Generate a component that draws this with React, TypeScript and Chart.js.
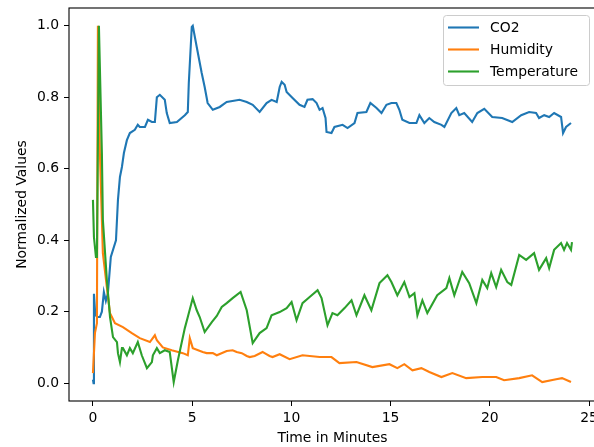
import React, { useEffect, useRef } from "react";
import { Chart, registerables } from "chart.js";

Chart.register(...registerables);

const co2Minutes = [0, 0.03, 0.05, 0.12, 0.25, 0.35, 0.45, 0.55, 0.65, 0.75, 0.9, 1.16, 1.26, 1.36, 1.46, 1.56, 1.71, 1.86, 2.11, 2.26, 2.36, 2.62, 2.77, 2.97, 3.12, 3.22, 3.37, 3.62, 3.72, 3.87, 4.23, 4.63, 4.78, 4.83, 4.98, 5.03, 5.23, 5.48, 5.63, 5.78, 6.04, 6.39, 6.74, 7.39, 7.75, 8.05, 8.4, 8.75, 9.0, 9.26, 9.41, 9.51, 9.66, 9.76, 10.06, 10.41, 10.66, 10.81, 11.07, 11.27, 11.42, 11.57, 11.72, 11.77, 12.02, 12.17, 12.58, 12.83, 13.18, 13.33, 13.78, 13.98, 14.29, 14.54, 14.79, 15.04, 15.29, 15.44, 15.59, 15.95, 16.3, 16.45, 16.7, 16.95, 17.2, 17.56, 17.71, 18.06, 18.31, 18.46, 18.71, 19.11, 19.37, 19.72, 20.12, 20.62, 21.13, 21.58, 21.98, 22.33, 22.48, 22.74, 22.99, 23.24, 23.59, 23.69, 23.84, 24.09];
const co2Values = [0.01, 0.0, 0.25, 0.19, 0.185, 0.185, 0.2, 0.255, 0.23, 0.25, 0.353, 0.4, 0.513, 0.577, 0.605, 0.644, 0.68, 0.7, 0.709, 0.723, 0.717, 0.717, 0.737, 0.731, 0.731, 0.8, 0.807, 0.793, 0.756, 0.728, 0.731, 0.75, 0.759, 0.84, 0.997, 1.0, 0.941, 0.868, 0.829, 0.784, 0.765, 0.773, 0.787, 0.793, 0.787, 0.779, 0.759, 0.784, 0.793, 0.787, 0.829, 0.843, 0.835, 0.815, 0.798, 0.779, 0.773, 0.793, 0.795, 0.784, 0.765, 0.77, 0.742, 0.703, 0.7, 0.717, 0.723, 0.714, 0.728, 0.756, 0.759, 0.784, 0.77, 0.756, 0.779, 0.784, 0.784, 0.765, 0.737, 0.728, 0.728, 0.75, 0.728, 0.742, 0.731, 0.723, 0.717, 0.756, 0.77, 0.75, 0.756, 0.731, 0.756, 0.768, 0.745, 0.742, 0.731, 0.75, 0.759, 0.756, 0.742, 0.75, 0.745, 0.756, 0.745, 0.7, 0.717, 0.728];

const humidityMinutes = [0, 0.1, 0.2, 0.25, 0.35, 0.5, 0.7, 0.86, 1.11, 1.51, 1.96, 2.36, 2.87, 3.12, 3.22, 3.52, 3.97, 4.53, 4.78, 4.88, 5.03, 5.53, 5.73, 6.04, 6.24, 6.74, 7.04, 7.24, 7.5, 7.75, 7.9, 8.15, 8.55, 8.65, 8.9, 9.05, 9.41, 9.91, 10.56, 11.42, 12.02, 12.42, 13.28, 14.08, 14.94, 15.34, 15.69, 16.1, 16.55, 16.95, 17.56, 18.11, 18.81, 19.62, 20.32, 20.72, 21.48, 22.13, 22.64, 23.34, 23.64, 24.09];
const humidityValues = [0.028, 0.14, 0.168, 1.0, 0.644, 0.364, 0.269, 0.196, 0.168, 0.157, 0.14, 0.126, 0.115, 0.134, 0.12, 0.1, 0.092, 0.084, 0.078, 0.126, 0.098, 0.087, 0.084, 0.084, 0.078, 0.09, 0.092, 0.087, 0.084, 0.076, 0.073, 0.076, 0.087, 0.084, 0.076, 0.073, 0.081, 0.067, 0.078, 0.073, 0.073, 0.056, 0.059, 0.045, 0.053, 0.042, 0.053, 0.036, 0.042, 0.031, 0.017, 0.028, 0.014, 0.017, 0.017, 0.008, 0.014, 0.022, 0.003, 0.011, 0.014, 0.003];

const temperatureMinutes = [0, 0.05, 0.15, 0.2, 0.3, 0.45, 0.5, 0.7, 0.86, 1.01, 1.21, 1.26, 1.36, 1.46, 1.51, 1.71, 1.86, 2.01, 2.26, 2.46, 2.72, 2.97, 3.02, 3.22, 3.37, 3.62, 3.87, 4.07, 4.28, 4.63, 4.78, 5.03, 5.23, 5.38, 5.63, 5.99, 6.24, 6.49, 6.74, 7.04, 7.44, 7.75, 8.05, 8.4, 8.75, 9.0, 9.41, 9.76, 10.01, 10.26, 10.56, 10.92, 11.32, 11.52, 11.82, 12.07, 12.32, 12.68, 13.03, 13.28, 13.68, 14.03, 14.44, 14.84, 15.04, 15.34, 15.69, 15.95, 16.2, 16.35, 16.6, 16.85, 17.35, 17.81, 17.96, 18.21, 18.61, 18.96, 19.32, 19.62, 19.87, 20.07, 20.32, 20.57, 20.88, 21.08, 21.48, 21.83, 22.23, 22.48, 22.84, 22.99, 23.24, 23.59, 23.74, 23.89, 24.09, 24.14];
const temperatureValues = [0.513, 0.409, 0.353, 0.353, 1.0, 0.644, 0.457, 0.289, 0.185, 0.129, 0.115, 0.084, 0.059, 0.098, 0.098, 0.078, 0.098, 0.084, 0.115, 0.078, 0.042, 0.059, 0.078, 0.098, 0.084, 0.092, 0.087, 0.003, 0.064, 0.154, 0.185, 0.238, 0.204, 0.185, 0.143, 0.171, 0.188, 0.213, 0.224, 0.238, 0.255, 0.204, 0.112, 0.14, 0.154, 0.19, 0.199, 0.21, 0.227, 0.176, 0.224, 0.241, 0.26, 0.238, 0.162, 0.196, 0.19, 0.21, 0.232, 0.19, 0.246, 0.204, 0.28, 0.302, 0.283, 0.246, 0.283, 0.241, 0.252, 0.19, 0.232, 0.196, 0.246, 0.266, 0.294, 0.246, 0.311, 0.28, 0.224, 0.289, 0.266, 0.308, 0.269, 0.317, 0.283, 0.275, 0.359, 0.345, 0.364, 0.317, 0.35, 0.322, 0.373, 0.392, 0.373, 0.392, 0.373, 0.395];

const seriesNames = ["CO2", "Humidity", "Temperature"];
const seriesColors = ["#1f77b4", "#ff7f0e", "#2ca02c"];
const xTickValues = [0, 5, 10, 15, 20, 25];
const yTickValues = [0, 0.2, 0.4, 0.6, 0.8, 1.0];
const xTitle = "Time in Minutes";
const yTitle = "Normalized Values";

const FONT_SIZE = 13.9;
const FONT = `${FONT_SIZE}px "DejaVu Sans"`;

const toPoints = (xs: number[], ys: number[]) => xs.map((x, i) => ({ x, y: ys[i] }));

const framePlugin = {
  id: "mplFrame",
  afterDraw(chart: any) {
    const { ctx, chartArea: a } = chart;
    ctx.save();
    // spines
    ctx.strokeStyle = "#000";
    ctx.lineWidth = 1.1;
    ctx.strokeRect(a.left, a.top, a.right - a.left, a.bottom - a.top);
    // axis titles
    ctx.fillStyle = "#000";
    ctx.font = FONT;
    ctx.textAlign = "center";
    ctx.textBaseline = "middle";
    ctx.fillText(xTitle, (a.left + a.right) / 2, a.bottom + 37);
    ctx.save();
    ctx.translate(a.left - 47, (a.top + a.bottom) / 2);
    ctx.rotate(-Math.PI / 2);
    ctx.fillText(yTitle, 0, 0);
    ctx.restore();
    // legend
    const boxW = 146;
    const boxH = 70;
    const bx = a.right - 7 - boxW;
    const by = a.top + 7;
    ctx.beginPath();
    ctx.roundRect(bx + 0.5, by + 0.5, boxW, boxH, 3);
    ctx.fillStyle = "rgba(255,255,255,0.8)";
    ctx.fill();
    ctx.strokeStyle = "#cccccc";
    ctx.lineWidth = 1;
    ctx.stroke();
    seriesNames.forEach((name, i) => {
      const ry = by + 12.5 + i * 22;
      ctx.beginPath();
      ctx.moveTo(bx + 5, ry);
      ctx.lineTo(bx + 36, ry);
      ctx.strokeStyle = seriesColors[i];
      ctx.lineWidth = 2.1;
      ctx.stroke();
      ctx.fillStyle = "#000";
      ctx.textAlign = "left";
      ctx.textBaseline = "middle";
      ctx.fillText(name, bx + 47, ry + 0.5);
    });
    ctx.restore();
  },
};

export default function App() {
  const canvasRef = useRef<HTMLCanvasElement | null>(null);

  useEffect(() => {
    if (!canvasRef.current) return;
    const series = [
      toPoints(co2Minutes, co2Values),
      toPoints(humidityMinutes, humidityValues),
      toPoints(temperatureMinutes, temperatureValues),
    ];
    const chart = new Chart(canvasRef.current, {
      type: "line",
      data: {
        datasets: series.map((pts, i) => ({
          label: seriesNames[i],
          data: pts,
          borderColor: seriesColors[i],
          backgroundColor: seriesColors[i],
          borderWidth: 2.1,
          pointRadius: 0,
          tension: 0,
          fill: false,
          order: 2 - i,
        })),
      },
      options: {
        responsive: false,
        animation: false,
        devicePixelRatio: 1,
        layout: { padding: { top: 8, right: 24, bottom: 0, left: 0 } },
        plugins: {
          legend: { display: false },
          tooltip: { enabled: false },
        },
        scales: {
          x: {
            type: "linear",
            min: -1.207,
            max: 25.35,
            afterBuildTicks: (scale: any) => {
              scale.ticks = xTickValues.map((v) => ({ value: v }));
            },
            afterFit: (scale: any) => {
              scale.height = 46;
              scale.paddingLeft = 0;
              scale.paddingRight = 0;
            },
            border: { display: false },
            grid: {
              display: true,
              drawOnChartArea: false,
              drawTicks: true,
              tickLength: 5,
              color: "#000",
              lineWidth: 1,
            },
            ticks: {
              color: "#000",
              font: { family: "DejaVu Sans", size: FONT_SIZE },
              padding: 4,
              autoSkip: false,
              maxRotation: 0,
              callback: (v: any) => String(v),
            },
          },
          y: {
            type: "linear",
            min: -0.05,
            max: 1.05,
            afterBuildTicks: (scale: any) => {
              scale.ticks = yTickValues.map((v) => ({ value: v }));
            },
            afterFit: (scale: any) => {
              scale.width = 69;
              scale.paddingTop = 0;
              scale.paddingBottom = 0;
            },
            border: { display: false },
            grid: {
              display: true,
              drawOnChartArea: false,
              drawTicks: true,
              tickLength: 5,
              color: "#000",
              lineWidth: 1,
            },
            ticks: {
              color: "#000",
              font: { family: "DejaVu Sans", size: FONT_SIZE },
              padding: 5,
              autoSkip: false,
              callback: (v: any) => Number(v).toFixed(1),
            },
          },
        },
      },
      plugins: [framePlugin],
    });
    return () => chart.destroy();
  }, []);

  return (
    <div
      style={{
        position: "absolute",
        left: 0,
        top: 0,
        width: 594,
        height: 447,
        overflow: "hidden",
        background: "#fff",
      }}
    >
      <canvas ref={canvasRef} width={620} height={447} style={{ display: "block" }} />
    </div>
  );
}
